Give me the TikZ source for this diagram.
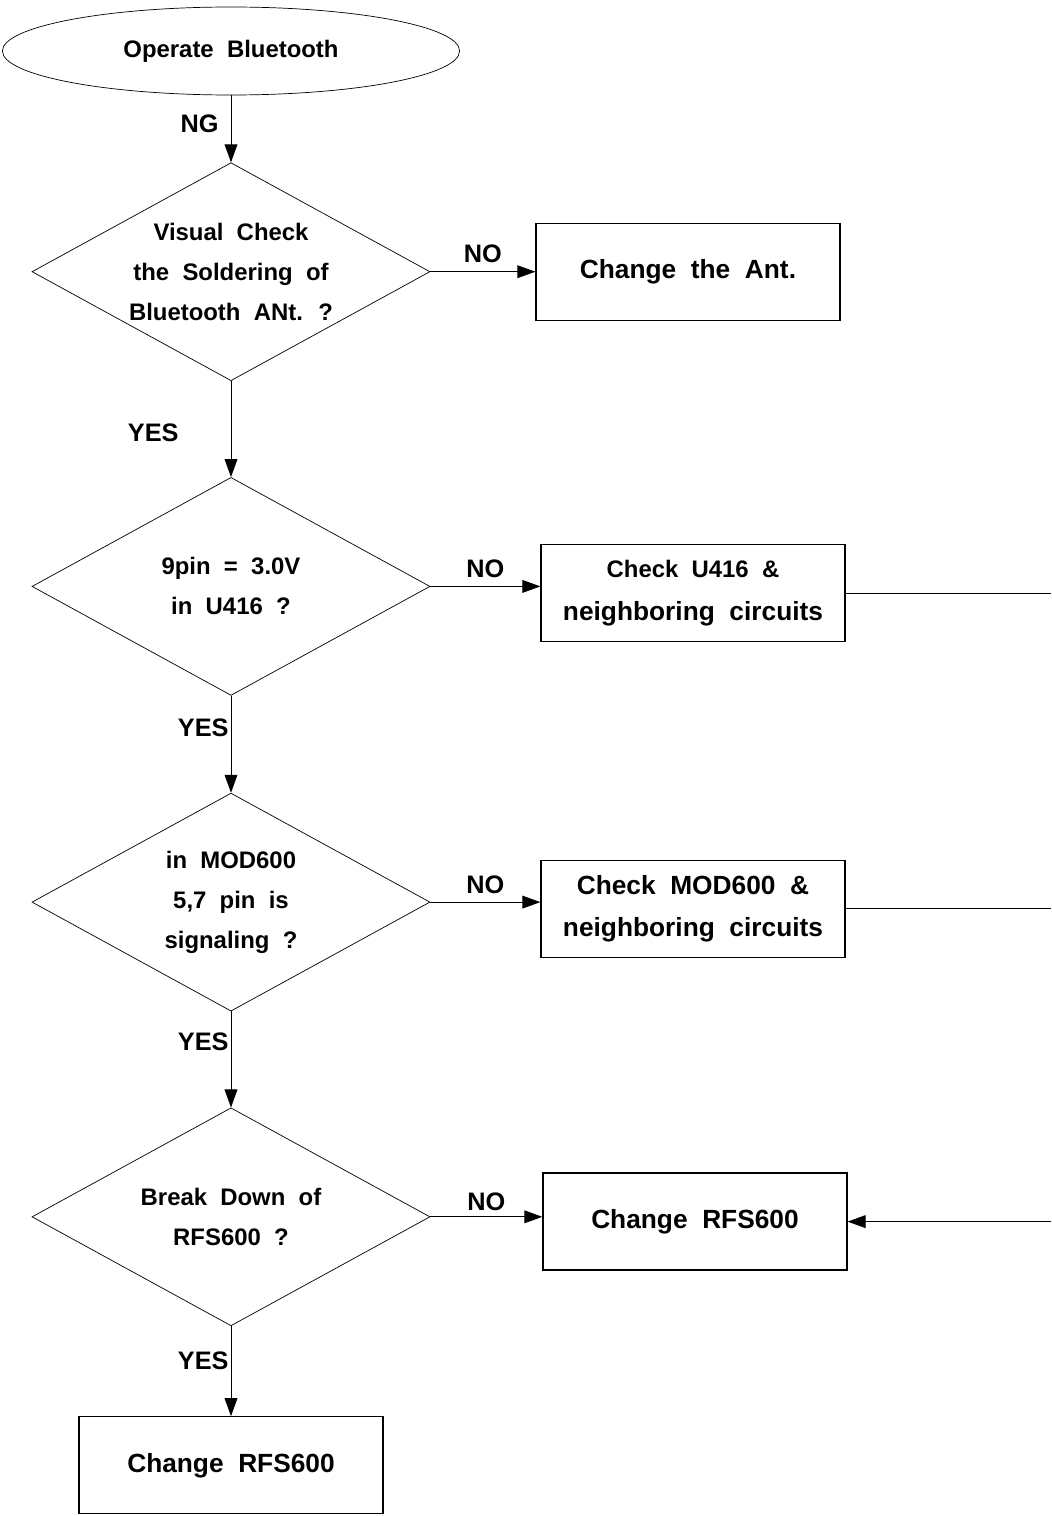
\documentclass[tikz,border=0pt]{standalone}
\usepackage{fontspec}
\setmainfont{Liberation Sans}[WordSpace=2]
\usetikzlibrary{shapes.geometric, arrows.meta, positioning, calc}

\begin{document}
\begin{tikzpicture}[
  startstop/.style={ellipse, minimum width=11.43cm, minimum height=2.2cm,
    text centered, draw=black, line width=0.5pt, font=\bfseries\fontsize{17}{28.5}\selectfont},
  decision/.style={diamond, aspect=1.83, minimum width=9.95cm, minimum height=5.45cm,
    inner sep=0pt, align=center, draw=black, line width=0.5pt,
    font=\bfseries\fontsize{17}{28.5}\selectfont},
  process/.style={rectangle, minimum width=7.6cm, minimum height=2.425cm,
    align=center, draw=black, line width=0.9pt, font=\bfseries\fontsize{18.7}{30}\selectfont},
  answer/.style={inner sep=0pt, font=\bfseries\fontsize{18}{20}\selectfont},
  arrow/.style={-{Triangle[length=0.45cm, width=0.32cm]}, line width=0.6pt}
]

\node (start) [startstop] at (0,0) {Operate Bluetooth};
\node (chkant) [decision, below=1.675cm of start] {Visual Check\\the Soldering of\\Bluetooth ANt. ?};
\node (chgant) [process, right=2.625cm of chkant] {Change the Ant.};
\node (chkvolt) [decision, below=2.4cm of chkant] {9pin = 3.0V\\in U416 ?};
\node (chku) [process, right=2.75cm of chkvolt, yshift=-0.17cm] {{\fontsize{17}{30}\selectfont Check U416 \&}\\neighboring circuits};
\node (chkmod) [decision, below=2.425cm of chkvolt] {in MOD600\\5,7 pin is\\signaling ?};
\node (chkmodbox) [process, right=2.75cm of chkmod, yshift=-0.17cm] {Check MOD600 \&\\neighboring circuits};
\node (chkrfs) [decision, below=2.4cm of chkmod] {Break Down of\\RFS600 ?};
\node (chgrfs) [process, right=2.8cm of chkrfs, yshift=-0.12cm] {Change RFS600};
\node (chgrfsb) [process, below=2.25cm of chkrfs] {Change RFS600};

\coordinate (rim) at (20.5,0);
\coordinate (uend) at (chku.east -| rim);
\coordinate (modend) at (chkmodbox.east -| rim);
\coordinate (rfsend) at (chgrfs.east -| rim);

\draw [arrow] (start) -- node[answer, pos=0.43, left=0.3cm]{NG} (chkant);
\draw [arrow] (chkant) -- node[answer, above=0.22cm]{NO} (chgant);
\draw [arrow] (chkant) -- node[answer, pos=0.54, left=1.3cm]{YES} (chkvolt);
\draw [arrow] (chkvolt.east) -- node[answer, above=0.2cm]{NO} (chkvolt.east -| chku.west);
\draw [arrow] (chkvolt) -- node[answer, pos=0.33, left=0.05cm]{YES} (chkmod);
\draw [arrow] (chkmod.east) -- node[answer, above=0.2cm]{NO} (chkmod.east -| chkmodbox.west);
\draw [arrow] (chkmod) -- node[answer, pos=0.32, left=0.05cm]{YES} (chkrfs);
\draw [arrow] (chkrfs.east) -- node[answer, above=0.15cm]{NO} (chkrfs.east -| chgrfs.west);
\draw [arrow] (chkrfs) -- node[answer, pos=0.38, left=0.05cm]{YES} (chgrfsb);

\draw [line width=0.6pt] (chku.east) -- (uend);
\draw [line width=0.6pt] (chkmodbox.east) -- (modend);
\draw [arrow] (rfsend) -- (chgrfs.east);

\useasboundingbox (-5.775,1.275) rectangle (20.5,-36.625);
\end{tikzpicture}
\end{document}
